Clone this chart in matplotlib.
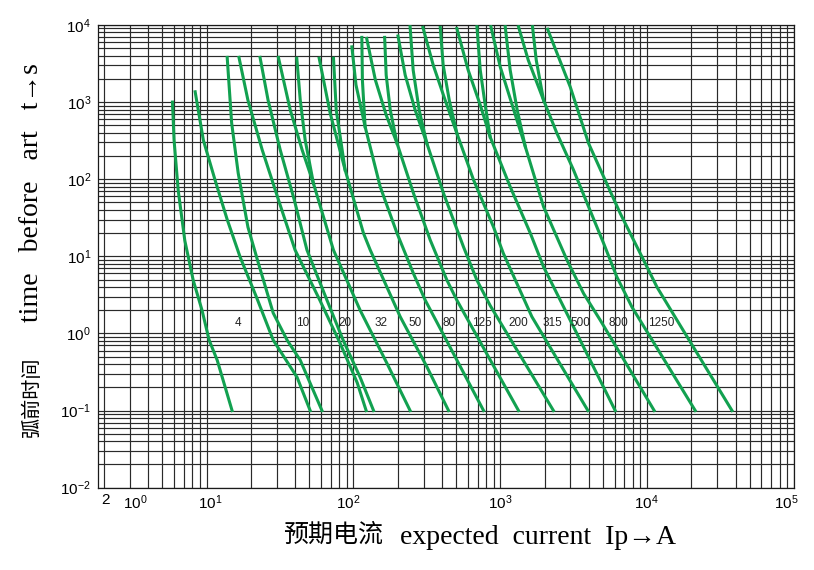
import numpy as np
import matplotlib
matplotlib.use('Agg')
import matplotlib.pyplot as plt
from matplotlib.ticker import LogLocator, NullFormatter, FixedLocator

plt.rcParams['font.family'] = ['Liberation Sans', 'DejaVu Sans']
plt.rcParams['mathtext.default'] = 'regular'
plt.rcParams['axes.unicode_minus'] = False

# pre-arcing time curves, current (A) vs time (s)
c1_I = [5.85, 6.0, 6.4, 7.1, 8.1, 9.3, 10.4, 11.8, 14.9]
c1_t = [1000, 320, 72, 16, 4.9, 2.0, 0.82, 0.45, 0.1]
c2_I = [8.35, 9.5, 11.4, 13.8, 16.9, 21.7, 28.4, 41.3, 50.7]
c2_t = [1360, 320, 98, 30, 9.8, 3.05, 0.82, 0.27, 0.1]
c3_I = [13.8, 14.8, 16.4, 19.1, 22.4, 28.4, 35.3, 43.4, 61]
c3_t = [3800, 536, 120, 24, 8.4, 1.84, 0.82, 0.45, 0.1]
c4_I = [16.6, 19.1, 23.9, 31.7, 40, 59, 81, 106, 122]
c4_t = [3800, 1060, 240, 46, 12.1, 2.7, 0.75, 0.23, 0.1]
c5_I = [23.1, 26.2, 31.7, 39.5, 48.2, 66, 85, 111, 137]
c5_t = [3800, 1060, 240, 54, 12.1, 2.7, 0.82, 0.27, 0.1]
c6_I = [30.8, 37.1, 44.7, 53.4, 73, 111, 169, 243]
c6_t = [3800, 790, 240, 88, 12.1, 2.0, 0.41, 0.1]
c6b_I = [41.1, 43.4, 46.9, 53.4]
c6b_t = [3700, 1060, 320, 88]
c7_I = [58.4, 69.4, 87.7, 117, 130, 208, 316, 444]
c7_t = [3700, 716, 132, 19.9, 12.1, 1.65, 0.37, 0.1]
c7b_I = [73.1, 76.3, 87.7]
c7b_t = [3700, 790, 132]
c8_I = [97.5, 104, 120, 152, 198, 256, 308, 769]
c8_t = [5200, 1670, 480, 80, 19.9, 6.0, 2.7, 0.1]
c8b_I = [114, 115, 120]
c8b_t = [6900, 1930, 480]
c9_I = [123, 141, 167, 198, 256, 333, 433, 506, 1330]
c9_t = [6700, 1930, 680, 292, 66, 16.3, 4.9, 2.7, 0.1]
c9b_I = [163, 167, 178, 198]
c9b_t = [6900, 2240, 790, 292]
c10_I = [201, 225, 263, 316, 410, 561, 693, 853, 2300]
c10_t = [7200, 2240, 790, 292, 66, 13.3, 4.9, 2.3, 0.1]
c10b_I = [243, 255, 280, 316]
c10b_t = [9500, 2600, 790, 292]
c11_I = [297, 349, 421, 506, 657, 899, 1047, 1640, 3950]
c11_t = [9300, 3030, 1060, 394, 98, 24, 11.0, 1.65, 0.1]
c11b_I = [390, 408, 449, 506]
c11b_t = [9300, 3030, 1060, 394]
c12_I = [506, 604, 730, 853, 1167, 1600, 1970, 2560, 6060]
c12_t = [9000, 2600, 916, 353, 80, 20, 7.3, 2.7, 0.1]
c12b_I = [693, 730, 789, 853]
c12b_t = [9500, 2600, 916, 353]
c13_I = [863, 998, 1205, 1480, 1970, 2840, 3690, 4790, 11170]
c13_t = [9500, 2880, 916, 264, 44, 9.0, 3.3, 1.49, 0.1]
c13b_I = [1080, 1167, 1303, 1480]
c13b_t = [9500, 2610, 790, 264]
c14_I = [1330, 1550, 1970, 2430, 3150, 3990, 5050, 6220, 7880, 21260]
c14_t = [9500, 3500, 1060, 394, 132, 44, 14.8, 5.4, 2.2, 0.1]
c14b_I = [1657, 1757, 1970]
c14b_t = [9500, 3500, 1060]
c15_I = [2100, 2990, 3990, 5050, 6560, 8980, 11660, 15960, 37840]
c15_t = [8800, 1585, 292, 108, 36, 10.9, 4.0, 1.49, 0.1]

curves = [(c1_I, c1_t), (c2_I, c2_t), (c3_I, c3_t), (c4_I, c4_t), (c5_I, c5_t),
          (c6_I, c6_t), (c6b_I, c6b_t), (c7_I, c7_t), (c7b_I, c7b_t),
          (c8_I, c8_t), (c8b_I, c8b_t), (c9_I, c9_t), (c9b_I, c9b_t),
          (c10_I, c10_t), (c10b_I, c10b_t), (c11_I, c11_t), (c11b_I, c11b_t),
          (c12_I, c12_t), (c12b_I, c12b_t), (c13_I, c13_t), (c13b_I, c13b_t),
          (c14_I, c14_t), (c14b_I, c14b_t), (c15_I, c15_t)]

# rated current labels
rating_txt = ['4', '10', '20', '32', '50', '80', '125', '200', '315', '500', '800', '1250']
rating_I = [16.4, 45.4, 87.3, 155, 261, 447, 755, 1318, 2280, 3500, 6410, 12450]
rating_t = 1.35

# x tick labels as printed on the chart
xlab_txt = ['2', '$10^{0}$', '$10^{1}$', '$10^{2}$', '$10^{3}$', '$10^{4}$', '$10^{5}$']
xlab_pos = [2.06, 3.26, 10.5, 92.5, 1000, 9800, 88700]
y_decades = [1e-2, 1e-1, 1e0, 1e1, 1e2, 1e3, 1e4]

green = '#12a150'

fig = plt.figure(figsize=(8.14, 5.7), dpi=100)
ax = fig.add_axes([0.1204, 0.1444, 0.855, 0.8118])
ax.set_xscale('log')
ax.set_yscale('log')
ax.set_xlim(1.82, 1e5)
ax.set_ylim(0.01, 1e4)

for I, t in curves:
    ax.plot(I, t, color=green, lw=2.2, zorder=3)

for txt, x in zip(rating_txt, rating_I):
    ax.text(x, rating_t, txt, fontsize=8.5, ha='center', va='center', color='#222222', zorder=4)

ax.xaxis.set_major_locator(LogLocator(base=10, numticks=20))
ax.yaxis.set_major_locator(FixedLocator(y_decades))
for a in (ax.xaxis, ax.yaxis):
    a.set_minor_locator(LogLocator(base=10, subs=np.arange(2, 10), numticks=100))
    a.set_minor_formatter(NullFormatter())
ax.xaxis.set_major_formatter(NullFormatter())
ax.set_yticklabels(['$10^{%d}$' % int(np.log10(v)) for v in y_decades])
ax.grid(which='both', color='#2a2a2a', lw=0.85)
ax.tick_params(which='both', length=0)
ax.tick_params(axis='y', labelsize=11, pad=5)
for s in ax.spines.values():
    s.set_color('#1a1a1a')
    s.set_linewidth(0.9)

for txt, x in zip(xlab_txt, xlab_pos):
    ax.text(x, -0.012, txt, transform=ax.get_xaxis_transform(), ha='center', va='top', fontsize=11)

# axis titles
fig.text(32/814, 1-397/570, '弧前时间', rotation=90, ha='center', va='center',
         fontsize=14.5, family=['Noto Sans CJK SC'])
fig.text(32/814, 1-193/570, 'time   before   art   t→s', rotation=90, ha='center', va='center',
         fontsize=20, family=['Liberation Serif', 'DejaVu Serif'])
fig.text(283/814, 1-535/570, '预期电流', ha='left', va='center',
         fontsize=18, family=['Noto Sans CJK SC'])
fig.text(400/814, 1-537/570, 'expected  current  Ip→A', ha='left', va='center',
         fontsize=20, family=['Liberation Serif', 'DejaVu Serif'])

fig.savefig('out.png', dpi=100)
